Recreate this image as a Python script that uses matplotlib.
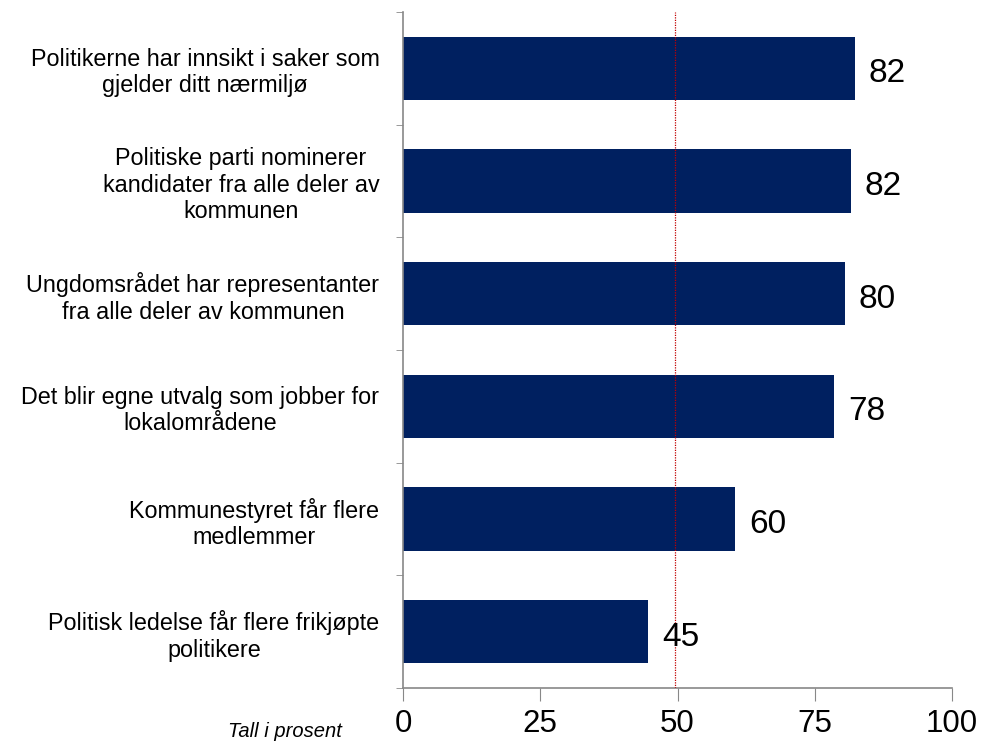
import matplotlib.pyplot as plt
import numpy as np

plt.rcParams['font.family'] = ['Liberation Sans', 'DejaVu Sans']

categories = [
    'Politikerne har innsikt i saker som\ngjelder ditt nærmiljø',
    'Politiske parti nominerer\nkandidater fra alle deler av\nkommunen',
    'Ungdomsrådet har representanter\nfra alle deler av kommunen',
    'Det blir egne utvalg som jobber for\nlokalområdene',
    'Kommunestyret får flere\nmedlemmer',
    'Politisk ledelse får flere frikjøpte\npolitikere',
]
values = [82.3, 81.6, 80.5, 78.5, 60.5, 44.6]
labels = ['82', '82', '80', '78', '60', '45']
ref_line = 49.6
xticks = [0, 25, 50, 75, 100]

fig = plt.figure(figsize=(9.82, 7.41), dpi=100)
ax = fig.add_axes([0.4104, 0.0715, 0.5591, 0.9123])

y = np.arange(len(categories))
ax.barh(y, values, height=0.56, color='#002060', zorder=2)

for yi, v, lab in zip(y, values, labels):
    ax.annotate(lab, xy=(v, yi), xytext=(10, -4), textcoords='offset points',
                ha='left', va='center', fontsize=24, color='black', zorder=4)

ax.axvline(ref_line, color='#C00000', linestyle=(0, (1, 1)), linewidth=0.9, zorder=3)

ax.set_xlim(0, 100)
ax.set_ylim(len(categories) - 0.5, -0.5)
ax.set_xticks(xticks)
ax.set_xticklabels([str(t) for t in xticks], fontsize=22.5)

# category labels at centre, ticks at boundaries
ax.set_yticks(y)
ax.set_yticklabels(categories, fontsize=16.8, ha='right', multialignment='center',
                   linespacing=1.2)
ax.set_yticks(np.arange(-0.5, len(categories)), minor=True)
ax.tick_params(axis='y', which='major', length=0, pad=17)
ax.tick_params(axis='y', which='minor', length=5, color='#888888', direction='out')
ax.tick_params(axis='x', length=9, color='#888888', direction='out', pad=6)

for s in ['top', 'right']:
    ax.spines[s].set_visible(False)
for s in ['left', 'bottom']:
    ax.spines[s].set_color('#888888')
    ax.spines[s].set_linewidth(1.2)

fig.text(0.232, 0.005, 'Tall i prosent', fontsize=14.5, style='italic')

fig.savefig('out.png', dpi=100)
